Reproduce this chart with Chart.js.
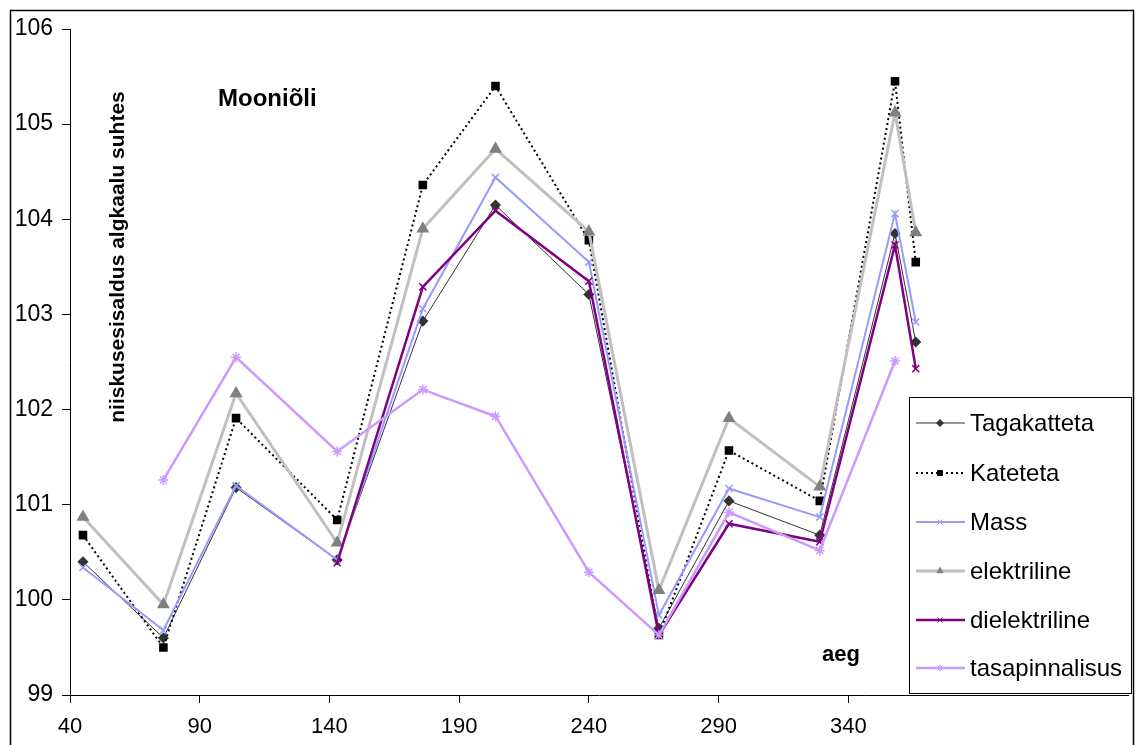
<!DOCTYPE html>
<html>
<head>
<meta charset="utf-8">
<script src="https://cdn.jsdelivr.net/npm/chart.js@4/dist/chart.umd.min.js"></script>
<style>
  html, body { margin: 0; padding: 0; background: #fff; }
  #wrap { width: 1136px; height: 745px; }
</style>
</head>
<body>
<div id="wrap"><canvas id="chart_mooniol" width="1136" height="745"></canvas></div>
<script>
// andmed (aeg päevades, niiskusesisaldus algkaalu suhtes)
var days = [45, 76, 104, 143, 176, 204, 240, 267, 294, 329, 358, 366];
var tagakatteta = [100.40, 99.60, 101.18, 100.42, 102.93, 104.15, 103.21, 99.70, 101.04, 100.68, 103.85, 102.71];
var kateteta = [100.68, 99.50, 101.91, 100.84, 104.36, 105.40, 103.78, 99.63, 101.57, 101.04, 105.45, 103.55];
var mass = [100.34, 99.68, 101.20, 100.42, 103.06, 104.44, 103.55, 99.84, 101.17, 100.87, 104.06, 102.92];
var elektriline = [100.87, 99.95, 102.17, 100.60, 103.90, 104.74, 103.87, 100.10, 101.91, 101.19, 105.12, 103.86];
var dielektriline = [null, null, null, 100.39, 103.29, 104.09, 103.35, 99.63, 100.80, 100.61, 103.73, 102.43];
var tasapinnalisus = [null, 101.26, 102.55, 101.56, 102.21, 101.93, 100.29, 99.63, 100.92, 100.52, 102.51, null];
var xTicks = [40, 90, 140, 190, 240, 290, 340];
var yTicks = [99, 100, 101, 102, 103, 104, 105, 106];

var FONT = "'Liberation Sans', Arial, sans-serif";

function points(values){
  var out = [];
  for (var i = 0; i < days.length; i++) {
    if (values[i] !== null) out.push({x: days[i], y: values[i]});
  }
  return out;
}

function series(label, values, color, width, dash, style, radius, pointColor, order){
  return {
    label: label,
    data: points(values),
    borderColor: color,
    borderWidth: width,
    borderDash: dash,
    pointStyle: style,
    pointRadius: radius,
    pointBorderColor: pointColor,
    pointBackgroundColor: pointColor,
    pointBorderWidth: 1.5,
    fill: false,
    tension: 0,
    order: order
  };
}

/* raam, tekstid ja legend */
var decorPlugin = {
  id: 'decor',
  beforeDraw: function(chart){
    var ctx = chart.ctx;
    ctx.save();
    ctx.fillStyle = '#fff';
    ctx.fillRect(0, 0, chart.width, chart.height);
    ctx.strokeStyle = '#000';
    ctx.lineWidth = 1.5;
    ctx.beginPath();
    ctx.moveTo(10.5, 760);
    ctx.lineTo(10.5, 10.5);
    ctx.lineTo(1133.5, 10.5);
    ctx.lineTo(1133.5, 760);
    ctx.stroke();
    ctx.restore();
  },
  afterDraw: function(chart){
    var ctx = chart.ctx;
    ctx.save();
    ctx.fillStyle = '#000';
    ctx.font = 'bold 24px ' + FONT;
    ctx.textAlign = 'left';
    ctx.textBaseline = 'middle';
    ctx.fillText('Mooniõli', 218, 99);
    ctx.font = 'bold 22px ' + FONT;
    ctx.fillText('aeg', 822, 655);
    ctx.save();
    ctx.translate(118, 257);
    ctx.rotate(-Math.PI / 2);
    ctx.textAlign = 'center';
    ctx.font = 'bold 21px ' + FONT;
    ctx.fillText('niiskusesisaldus algkaalu suhtes', 0, 0);
    ctx.restore();

    // legend
    ctx.fillStyle = '#fff';
    ctx.fillRect(909.5, 397.5, 222, 296);
    ctx.strokeStyle = '#000';
    ctx.lineWidth = 1;
    ctx.strokeRect(909.5, 397.5, 222, 296);
    var rows = [423, 473, 522, 571, 620, 668];
    chart.data.datasets.forEach(function(ds, i){
      var y = rows[i];
      ctx.save();
      ctx.strokeStyle = ds.borderColor;
      ctx.lineWidth = ds.borderWidth;
      ctx.setLineDash(ds.borderDash || []);
      ctx.beginPath();
      ctx.moveTo(916, y);
      ctx.lineTo(965, y);
      ctx.stroke();
      ctx.restore();
      ctx.save();
      ctx.strokeStyle = ds.pointBorderColor;
      ctx.fillStyle = ds.pointBackgroundColor;
      ctx.lineWidth = 1;
      Chart.helpers.drawPoint(ctx, {pointStyle: ds.pointStyle, radius: 3.5, rotation: 0, borderWidth: 1}, 940, y);
      ctx.restore();
      ctx.fillStyle = '#000';
      ctx.font = '24px ' + FONT;
      ctx.textAlign = 'left';
      ctx.textBaseline = 'middle';
      ctx.fillText(ds.label, 970, y + 1);
    });
    ctx.restore();
  }
};

var ctx = document.getElementById('chart_mooniol').getContext('2d');
var myChart = new Chart(ctx, {
  type: 'line',
  data: {
    datasets: [
      series('Tagakatteta', tagakatteta, '#333333', 1, [], 'rectRot', 4.5, '#333333', 5),
      series('Kateteta', kateteta, '#000000', 2, [2, 3], 'rect', 5, '#000000', 4),
      series('Mass', mass, '#9999FF', 2, [], 'crossRot', 5, '#9999FF', 3),
      series('elektriline', elektriline, '#C0C0C0', 3, [], 'triangle', 6, '#808080', 2),
      series('dielektriline', dielektriline, '#800080', 2.5, [], 'crossRot', 5, '#800080', 1),
      series('tasapinnalisus', tasapinnalisus, '#CC99FF', 2.5, [], 'star', 5, '#CC99FF', 0)
    ]
  },
  options: {
    responsive: false,
    animation: false,
    devicePixelRatio: 1,
    layout: { padding: { top: 29, right: 3, left: 10, bottom: 0 } },
    plugins: {
      legend: { display: false },
      title: { display: false },
      tooltip: { enabled: false }
    },
    scales: {
      x: {
        type: 'linear',
        min: 40,
        max: 448,
        afterBuildTicks: function(s){ s.ticks = xTicks.map(function(v){ return {value: v}; }); },
        afterFit: function(s){ s.height = 50; },
        grid: { drawOnChartArea: false, drawTicks: true, tickLength: 8, color: '#000' },
        border: { color: '#000', width: 1 },
        ticks: { color: '#000', font: { family: FONT, size: 22 }, padding: 11, maxRotation: 0, autoSkip: false }
      },
      y: {
        type: 'linear',
        min: 99,
        max: 106,
        afterBuildTicks: function(s){ s.ticks = yTicks.map(function(v){ return {value: v}; }); },
        afterFit: function(s){ s.width = 60; },
        grid: { drawOnChartArea: false, drawTicks: true, tickLength: 8, color: '#000' },
        border: { color: '#000', width: 1 },
        ticks: { color: '#000', font: { family: FONT, size: 23 }, padding: 9 }
      }
    }
  },
  plugins: [decorPlugin]
});
</script>
</body>
</html>
